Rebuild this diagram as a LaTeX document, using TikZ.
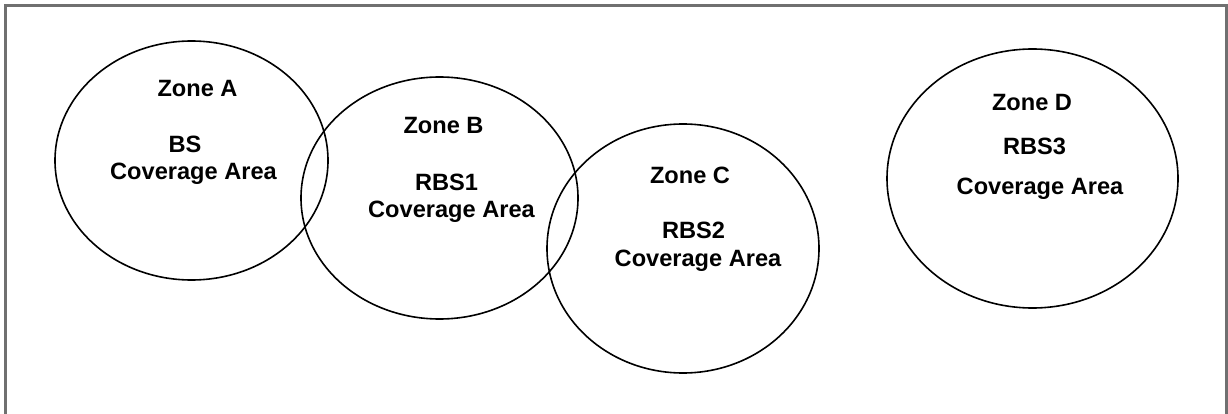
\documentclass[tikz,border=0pt]{standalone}
\usepackage{fontspec}
\setmainfont{Liberation Sans}
\usetikzlibrary{shapes.geometric}
\tikzset{
  zone/.style={ellipse, draw=black, line width=1.6pt, inner sep=0pt},
  lbl/.style={anchor=base, inner sep=0pt, font=\bfseries\fontsize{23.6}{27}\selectfont},
  frame/.style={draw={rgb,255:red,112;green,112;blue,112}, line width=3pt}
}
\begin{document}
\begin{tikzpicture}[x=1pt, y=-1pt]
\useasboundingbox (0,0) rectangle (1228,414);
% frame (bottom edge lies outside the picture)
\coordinate (f1) at (5.5,420);
\coordinate (f2) at (5.5,5.5);
\coordinate (f3) at (1226.5,5.5);
\coordinate (f4) at (1226.5,420);
\draw[frame] (f1) -- (f2) -- (f3) -- (f4);
% coverage areas
\node[zone, minimum width=273pt, minimum height=239pt] (A) at (191.5,160.5) {};
\node[zone, minimum width=277pt, minimum height=242pt] (B) at (439.5,198) {};
\node[zone, minimum width=272pt, minimum height=249pt] (C) at (683,248.5) {};
\node[zone, minimum width=291pt, minimum height=259pt] (D) at (1032.5,178.5) {};
% labels
\node[lbl] (A1) at (197.5,97) {Zone A};
\node[lbl] (A2) at (185,153) {BS};
\node[lbl] (A3) at (193.5,180) {Coverage Area};
\node[lbl] (B1) at (443.5,134) {Zone B};
\node[lbl] (B2) at (446.5,190) {RBS1};
\node[lbl] (B3) at (451.5,218) {Coverage Area};
\node[lbl] (C1) at (690,183) {Zone C};
\node[lbl] (C2) at (693.5,238) {RBS2};
\node[lbl] (C3) at (698,266.7) {Coverage Area};
\node[lbl] (D1) at (1032,111) {Zone D};
\node[lbl] (D2) at (1034.5,155) {RBS3};
\node[lbl] (D3) at (1040,194) {Coverage Area};
\end{tikzpicture}
\end{document}
